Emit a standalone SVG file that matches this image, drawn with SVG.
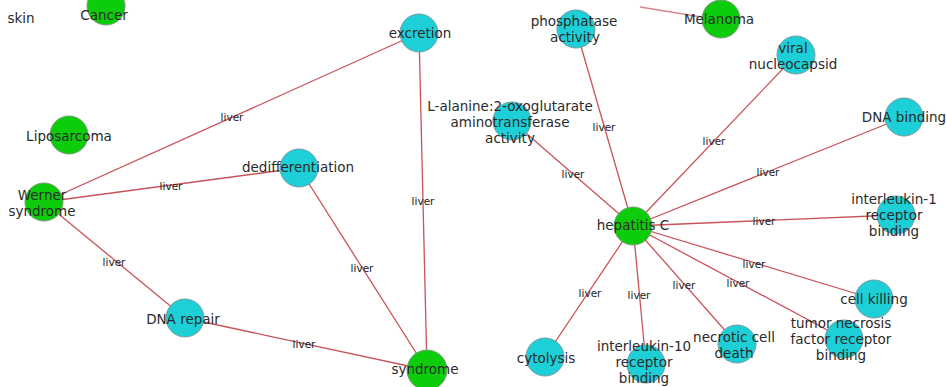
<svg xmlns="http://www.w3.org/2000/svg" width="946" height="387" viewBox="0 0 946 387">
<style>
.e{stroke:#c8535a;stroke-width:1.3;fill:none}
.g{fill:#0ccc0c;stroke:#7a9a7a;stroke-width:1}
.c{fill:#1dcfd6;stroke:#7a9aa0;stroke-width:1}
.t{font-family:"DejaVu Sans",sans-serif;font-size:13.5px;fill:#2a2a2a;text-anchor:middle}
.l{font-family:"DejaVu Sans",sans-serif;font-size:10.5px;fill:#222;text-anchor:middle}
</style>
<rect width="946" height="387" fill="#fff"/>
<g id="connectors">
<line class="e" x1="44" y1="202" x2="419" y2="33"/>
<line class="e" x1="44" y1="202" x2="299" y2="168"/>
<line class="e" x1="44" y1="202" x2="185" y2="318"/>
<line class="e" x1="299" y1="168" x2="427" y2="370"/>
<line class="e" x1="419" y1="33" x2="427" y2="370"/>
<line class="e" x1="185" y1="318" x2="427" y2="370"/>
<line class="e" x1="633" y1="226" x2="576" y2="29"/>
<line class="e" x1="633" y1="226" x2="512" y2="121"/>
<line class="e" x1="633" y1="226" x2="796" y2="55"/>
<line class="e" x1="633" y1="226" x2="904" y2="117"/>
<line class="e" x1="633" y1="226" x2="896" y2="215"/>
<line class="e" x1="633" y1="226" x2="874" y2="299"/>
<line class="e" x1="633" y1="226" x2="844" y2="339"/>
<line class="e" x1="633" y1="226" x2="737" y2="344"/>
<line class="e" x1="633" y1="226" x2="646" y2="364"/>
<line class="e" x1="633" y1="226" x2="545" y2="357"/>
<line class="e" x1="720" y1="20" x2="640" y2="7" stroke-opacity="0.7"/>
<text class="l" x="232" y="121">liver</text>
<text class="l" x="171" y="190">liver</text>
<text class="l" x="114" y="266">liver</text>
<text class="l" x="304" y="348">liver</text>
<text class="l" x="362" y="272">liver</text>
<text class="l" x="423" y="205">liver</text>
<text class="l" x="604" y="131">liver</text>
<text class="l" x="573" y="178">liver</text>
<text class="l" x="714" y="145">liver</text>
<text class="l" x="768" y="176">liver</text>
<text class="l" x="764" y="225">liver</text>
<text class="l" x="754" y="268">liver</text>
<text class="l" x="738" y="287">liver</text>
<text class="l" x="684" y="289">liver</text>
<text class="l" x="639" y="299">liver</text>
<text class="l" x="590" y="297">liver</text>
</g>
<g id="skin"><text class="t" x="21" y="23">skin</text></g>
<g id="cancer"><circle class="g" cx="106" cy="6" r="19"/><text class="t" x="104" y="20">Cancer</text></g>
<g id="liposarcoma"><circle class="g" cx="69" cy="135" r="19"/><text class="t" x="69" y="141">Liposarcoma</text></g>
<g id="werner"><circle class="g" cx="44" cy="202" r="19"/><text class="t" x="42" y="200">Werner</text><text class="t" x="42" y="216">syndrome</text></g>
<g id="excretion"><circle class="c" cx="419" cy="33" r="19"/><text class="t" x="420" y="38">excretion</text></g>
<g id="dedifferentiation"><circle class="c" cx="299" cy="168" r="19"/><text class="t" x="298" y="172">dedifferentiation</text></g>
<g id="dnarepair"><circle class="c" cx="185" cy="318" r="19"/><text class="t" x="183" y="324">DNA repair</text></g>
<g id="syndrome"><circle class="g" cx="427" cy="370" r="20"/><text class="t" x="425" y="374">syndrome</text></g>
<g id="phosphatase"><circle class="c" cx="576" cy="29" r="19"/><text class="t" x="574" y="26">phosphatase</text><text class="t" x="575" y="42">activity</text></g>
<g id="lalanine"><circle class="c" cx="512" cy="121" r="19"/><text class="t" x="510" y="111">L-alanine:2-oxoglutarate</text><text class="t" x="510" y="127">aminotransferase</text><text class="t" x="510" y="143">activity</text></g>
<g id="melanoma"><circle class="g" cx="721" cy="19" r="19"/><text class="t" x="719" y="24">Melanoma</text></g>
<g id="viral"><circle class="c" cx="796" cy="55" r="19"/><text class="t" x="793" y="53">viral</text><text class="t" x="793" y="69">nucleocapsid</text></g>
<g id="dnabinding"><circle class="c" cx="904" cy="117" r="19"/><text class="t" x="904" y="122">DNA binding</text></g>
<g id="hepatitisc"><circle class="g" cx="633" cy="226" r="19"/><text class="t" x="633" y="230">hepatitis C</text></g>
<g id="il1"><circle class="c" cx="896" cy="215" r="19"/><text class="t" x="894" y="204">interleukin-1</text><text class="t" x="894" y="220">receptor</text><text class="t" x="894" y="236">binding</text></g>
<g id="cellkilling"><circle class="c" cx="874" cy="299" r="19"/><text class="t" x="874" y="304">cell killing</text></g>
<g id="tnf"><circle class="c" cx="844" cy="339" r="19"/><text class="t" x="841" y="328">tumor necrosis</text><text class="t" x="841" y="344">factor receptor</text><text class="t" x="841" y="360">binding</text></g>
<g id="necrotic"><circle class="c" cx="737" cy="344" r="19"/><text class="t" x="734" y="342">necrotic cell</text><text class="t" x="734" y="358">death</text></g>
<g id="il10"><circle class="c" cx="646" cy="364" r="19"/><text class="t" x="644" y="351">interleukin-10</text><text class="t" x="644" y="367">receptor</text><text class="t" x="644" y="383">binding</text></g>
<g id="cytolysis"><circle class="c" cx="545" cy="357" r="19"/><text class="t" x="546" y="363">cytolysis</text></g>
</svg>
